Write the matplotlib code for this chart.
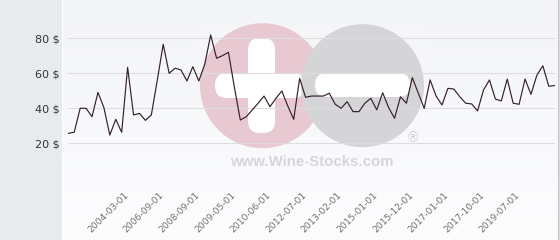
import matplotlib
matplotlib.use("Agg")
import matplotlib.pyplot as plt
import numpy as np
from matplotlib.patches import Circle, FancyBboxPatch, Rectangle
from matplotlib.transforms import Affine2D, ScaledTranslation

# ---- data ----
prices = [25.7, 26.3, 40, 40, 35.2, 49.1, 40.4, 24.7, 33.7, 26.3,
          63.4, 36.2, 37.1, 33.1, 36.2, 56, 76.6, 60, 62.9, 61.9,
          55.6, 63.8, 55.6, 65.1, 81.9, 68.6, 70.1, 72, 52, 33.3,
          35.2, 39, 42.9, 47, 40.9, 45.7, 49.9, 41.3, 33.7, 57.1,
          46.3, 47, 47, 47, 48.6, 42.3, 40, 43.8, 38.1, 38.1,
          42.9, 45.7, 39.1, 48.9, 40.4, 34.3, 46.6, 42.9, 57.5, 48.7,
          40, 56.2, 47, 41.9, 51.4, 51, 46.6, 42.9, 42.5, 38.5,
          50.5, 56.2, 45.3, 44.2, 56.7, 42.9, 42.3, 56.7, 48, 59,
          64.3, 52.6, 53]
date_labels = ['2004-03-01', '2006-09-01', '2008-09-01', '2009-05-01',
               '2010-06-01', '2012-07-01', '2013-02-01', '2015-01-01',
               '2015-12-01', '2017-01-01', '2017-10-01', '2019-07-01']
y_ticks = [0, 20, 40, 60, 80]
y_tick_labels = ['', '20 $', '40 $', '60 $', '80 $']
watermark_text = 'www.Wine-Stocks.com'

W, H, DPI = 560, 240, 100
fig = plt.figure(figsize=(W / DPI, H / DPI), dpi=DPI)
fig.patch.set_facecolor('#f4f5f9')

# pixel transform (top-left origin)
px = Affine2D().scale(1 / DPI, -1 / DPI).translate(0, H / DPI) + fig.dpi_scale_trans

# background gradient for plot area
bg = fig.add_axes([63 / W, 0, (558 - 63) / W, 1], zorder=-5)
grad = np.linspace(0, 1, 256).reshape(-1, 1)
top = np.array([0xf3, 0xf4, 0xf8]) / 255
bot = np.array([0xfd, 0xfd, 0xfe]) / 255
img = top[None, None, :] * (1 - grad[:, :, None]) + bot[None, None, :] * grad[:, :, None]
bg.imshow(img, aspect='auto', extent=[0, 1, 0, 1])
bg.set_axis_off()

# left panel
fig.add_artist(Rectangle((0, 0), 62, H, transform=px, facecolor='#e8ebee',
                         edgecolor='none', zorder=-4))
fig.add_artist(Rectangle((62, 0), 1.2, H, transform=px, facecolor='#ffffff',
                         edgecolor='none', zorder=-4))
# right border
fig.add_artist(Rectangle((558, 0), 2, H, transform=px, facecolor='#dcdcde',
                         edgecolor='none', zorder=-4))
fig.add_artist(Rectangle((558, 0), 0.8, H, transform=px, facecolor='#c4c4c6',
                         edgecolor='none', zorder=-4))

# watermark
fig.add_artist(Rectangle((197, 10), 231, 168, transform=px, facecolor='white',
                         alpha=0.12, edgecolor='none', zorder=-3))
fig.add_artist(Circle((262.5, 85.7), 62.5, transform=px, facecolor='#e8c9d2',
                      edgecolor='none', zorder=-2))
fig.add_artist(FancyBboxPatch((248, 38), 27, 95, boxstyle='round,pad=0,rounding_size=12',
                              transform=px, facecolor='#ffffff', edgecolor='none', zorder=-2))
fig.add_artist(FancyBboxPatch((215, 73), 90, 25, boxstyle='round,pad=0,rounding_size=12',
                              transform=px, facecolor='#ffffff', edgecolor='none', zorder=-2))
fig.add_artist(Circle((362.5, 85.7), 61.5, transform=px, facecolor='#d5d5d7',
                      edgecolor='none', zorder=-2))
fig.add_artist(FancyBboxPatch((315, 73), 95, 24, boxstyle='round,pad=0,rounding_size=12',
                              transform=px, facecolor='#ffffff', edgecolor='none', zorder=-2))
fig.text(312, 166.5, watermark_text, transform=px, ha='center', va='baseline',
         fontsize=10.8, fontweight='bold', family='Liberation Sans', color='#d6d6d8',
         zorder=-2)
fig.text(413, 138, '\u00ae', transform=px, ha='center', va='center',
         fontsize=10, family='Liberation Sans', color='#cfcfd1', zorder=-2)

# main axes
x0, x1 = 68.3, 554.7
ybot, ytop = 178.3, 3.3
ax = fig.add_axes([x0 / W, (H - ybot) / H, (x1 - x0) / W, (ybot - ytop) / H])
ax.set_facecolor('none')
n = len(prices)
x = np.arange(n)
ax.plot(x, prices, color='#35202b', lw=0.85, zorder=3)
ax.set_xlim(0, n - 1)
ax.set_ylim(0, 100)

ax.set_yticks(y_ticks)
ax.set_yticklabels(y_tick_labels)
ax.grid(axis='y', color='#dddddf', lw=0.8, zorder=1)
ax.tick_params(axis='y', length=0, pad=6, labelsize=8, labelcolor='#333333')

label_pos = np.arange(9, 9 + 6 * len(date_labels), 6)
ax.set_xticks(label_pos)
ax.set_xticklabels(date_labels)
ax.tick_params(axis='x', length=0, pad=8.5, labelsize=6.6, labelcolor='#707070')
off = ScaledTranslation(2 / DPI, 0, fig.dpi_scale_trans)
for lab in ax.get_xticklabels():
    lab.set_rotation(45)
    lab.set_ha('right')
    lab.set_va('top')
    lab.set_rotation_mode('anchor')
    lab.set_transform(lab.get_transform() + off)

for s in ax.spines.values():
    s.set_visible(False)

fig.savefig('out.png', dpi=DPI)
